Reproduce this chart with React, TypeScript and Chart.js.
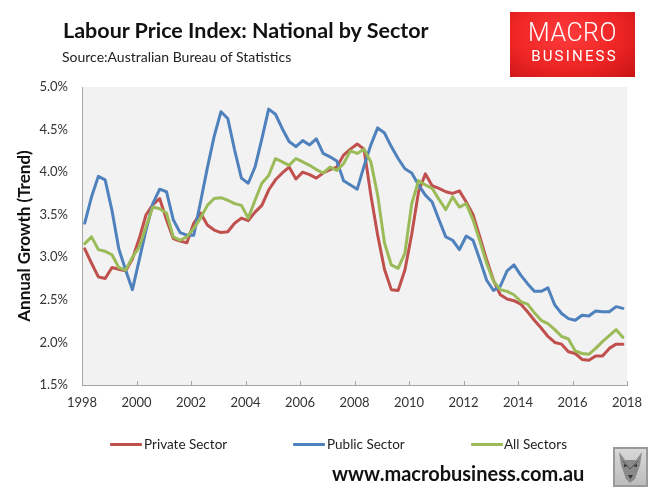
import React, { useEffect, useRef } from "react";
import { Chart, registerables } from "chart.js";

Chart.register(...registerables);

// First observation (Q1 1998) as decimal year; one observation per quarter
const firstObservation = 1998.1;

const privateSector = [
  3.10, 2.93, 2.77, 2.75, 2.88, 2.86, 2.84, 2.98, 3.22, 3.50, 3.62, 3.69, 3.44, 3.22, 3.19, 3.17,
  3.40, 3.52, 3.38, 3.32, 3.29, 3.30, 3.40,
  3.46, 3.43, 3.53, 3.61, 3.79, 3.91, 3.99, 4.06, 3.92, 4.00, 3.97, 3.93, 3.99, 4.03, 4.06, 4.20,
  4.27, 4.33, 4.27, 3.73, 3.26, 2.86, 2.62, 2.61, 2.85, 3.27, 3.77,
  3.98, 3.84, 3.81, 3.77, 3.75, 3.78, 3.65, 3.50, 3.24, 2.97, 2.73, 2.56, 2.51, 2.49, 2.45, 2.36,
  2.26, 2.17, 2.07,
  2.00, 1.98, 1.89, 1.87, 1.80, 1.79, 1.84, 1.84, 1.93, 1.98, 1.98,
];

const publicSector = [
  3.40, 3.71, 3.95, 3.91, 3.55, 3.10, 2.85, 2.62, 2.97, 3.32, 3.63, 3.80, 3.77, 3.44, 3.29, 3.26,
  3.26, 3.65, 4.05, 4.42, 4.71, 4.63, 4.26,
  3.93, 3.87, 4.06, 4.39, 4.74, 4.68, 4.51, 4.36, 4.30, 4.37, 4.32, 4.39, 4.22, 4.18, 4.13, 3.90,
  3.85, 3.80, 4.07, 4.32, 4.52, 4.46, 4.30, 4.16, 4.04, 3.99, 3.85,
  3.73, 3.65, 3.44, 3.24, 3.20, 3.09, 3.25, 3.20, 2.97, 2.73, 2.61, 2.66, 2.84, 2.91, 2.79, 2.69,
  2.60, 2.60, 2.64, 2.44, 2.34, 2.28, 2.26, 2.32, 2.31, 2.37,
  2.36, 2.36, 2.42, 2.40,
];

const allSectors = [
  3.16, 3.24, 3.09, 3.07, 3.03, 2.88, 2.85, 3.00, 3.12, 3.36, 3.59, 3.57, 3.52, 3.24, 3.20, 3.24,
  3.34, 3.46, 3.61, 3.69, 3.70, 3.67, 3.63,
  3.61, 3.46, 3.67, 3.87, 3.96, 4.16, 4.12, 4.08, 4.16, 4.12, 4.08, 4.03, 3.99, 4.06, 4.02, 4.10,
  4.25, 4.22, 4.27, 4.12, 3.73, 3.17, 2.91, 2.87, 3.05, 3.63, 3.90,
  3.85, 3.81, 3.68, 3.56, 3.71, 3.59, 3.63, 3.44, 3.19, 2.93, 2.72, 2.62, 2.60, 2.56, 2.48, 2.45,
  2.35, 2.26, 2.22, 2.15, 2.07, 2.04,
  1.90, 1.87, 1.86, 1.93, 2.01, 2.08, 2.15, 2.06,
];

const xTickYears = [1998, 2000, 2002, 2004, 2006, 2008, 2010, 2012, 2014, 2016, 2018];
const yTickValues = [1.5, 2.0, 2.5, 3.0, 3.5, 4.0, 4.5, 5.0];

const seriesNames = ["Private Sector", "Public Sector", "All Sectors"];
const seriesColors = ["#c0504d", "#4f81bd", "#9bbb59"];

const FONT = "Lato, 'Open Sans', sans-serif";

export default function App() {
  const ref = useRef<HTMLCanvasElement>(null);

  useEffect(() => {
    document.body.style.margin = "0";
    const canvas = ref.current;
    if (!canvas) return;

    const toPoints = (arr: number[]) =>
      arr.map((v, i) => ({ x: firstObservation + 0.25 * i, y: v }));

    const plotBg = {
      id: "plotBg",
      beforeDraw(chart: any) {
        const { ctx, chartArea: a } = chart;
        ctx.save();
        ctx.fillStyle = "#f2f2f2";
        ctx.fillRect(a.left, a.top, a.right - a.left, a.bottom - a.top);
        ctx.restore();
      },
      afterDatasetsDraw(chart: any) {
        const { ctx, chartArea: a } = chart;
        const xs = chart.scales.x;
        ctx.save();
        ctx.strokeStyle = "#a6a6a6";
        ctx.lineWidth = 1;
        xTickYears.forEach((yr) => {
          const px = Math.round(xs.getPixelForValue(yr)) + 0.5;
          ctx.beginPath();
          ctx.moveTo(px, a.bottom);
          ctx.lineTo(px, a.bottom - 4);
          ctx.stroke();
        });
        ctx.restore();
      },
    };

    const datasetsSrc = [privateSector, publicSector, allSectors];

    const chart = new Chart(canvas, {
      type: "line",
      data: {
        datasets: datasetsSrc.map((arr, k) => ({
          label: seriesNames[k],
          data: toPoints(arr),
          borderColor: seriesColors[k],
          backgroundColor: seriesColors[k],
          borderWidth: 3,
          pointRadius: 0,
          tension: 0,
          borderJoinStyle: "round" as const,
          borderCapStyle: "round" as const,
          order: 2 - k,
        })),
      },
      options: {
        animation: false,
        responsive: true,
        maintainAspectRatio: false,
        layout: { padding: { left: 0, top: 87, right: 33, bottom: 85 } },
        plugins: {
          legend: { display: false },
          tooltip: { enabled: false },
          title: { display: false },
        },
        scales: {
          x: {
            type: "linear",
            min: 1998,
            max: 2018,
            afterBuildTicks(scale: any) {
              scale.ticks = xTickYears.map((v) => ({ value: v }));
            },
            afterFit(scale: any) {
              scale.height = 30;
            },
            ticks: {
              autoSkip: false,
              maxRotation: 0,
              padding: 10,
              color: "#333333",
              font: { family: FONT, size: 13 },
              callback: (v: any) => String(v),
            },
            grid: { display: true, drawOnChartArea: false, drawTicks: false },
            border: { display: true, color: "#a6a6a6", width: 1 },
          },
          y: {
            type: "linear",
            min: 1.5,
            max: 5.0,
            afterBuildTicks(scale: any) {
              scale.ticks = yTickValues.map((v) => ({ value: v }));
            },
            afterFit(scale: any) {
              scale.width = 82;
            },
            ticks: {
              padding: 14,
              color: "#333333",
              font: { family: FONT, size: 13 },
              callback: (v: any) => Number(v).toFixed(1) + "%",
            },
            grid: { display: true, drawOnChartArea: false, drawTicks: false },
            border: { display: true, color: "#a6a6a6", width: 1 },
            title: {
              display: true,
              text: "Annual Growth (Trend)",
              color: "#111111",
              font: { family: FONT, size: 17, weight: "bold" },
              padding: { top: 14, bottom: 0 },
            },
          },
        },
      },
      plugins: [plotBg],
    } as any);

    return () => chart.destroy();
  }, []);

  const legendItems = [
    { lineX: 110, textX: 144 },
    { lineX: 293, textX: 327 },
    { lineX: 471, textX: 504 },
  ];

  return (
    <div
      style={{
        position: "relative",
        width: 660,
        height: 500,
        background: "#ffffff",
        overflow: "hidden",
        fontFamily: FONT,
      }}
    >
      <div style={{ position: "absolute", left: 0, top: 0, width: 660, height: 500 }}>
        <canvas ref={ref} />
      </div>

      <div
        style={{
          position: "absolute",
          left: 63,
          top: 16,
          fontSize: 21.5,
          fontWeight: 700,
          color: "#111",
          whiteSpace: "nowrap",
          lineHeight: "28px",
        }}
      >
        Labour Price Index: National by Sector
      </div>
      <div
        style={{
          position: "absolute",
          left: 62,
          top: 48,
          fontSize: 14,
          color: "#222",
          whiteSpace: "nowrap",
          lineHeight: "18px",
        }}
      >
        Source:Australian Bureau of Statistics
      </div>

      <div
        style={{
          position: "absolute",
          left: 510,
          top: 12,
          width: 125,
          height: 65,
          background:
            "radial-gradient(ellipse at 45% 35%, #ff3b3b 0%, #ee2525 55%, #c81414 100%)",
          color: "#fff",
          fontFamily: "Roboto, sans-serif",
          textAlign: "center",
        }}
      >
        <div
          style={{
            position: "absolute",
            left: 0,
            width: 125,
            top: 6,
            fontSize: 25,
            fontWeight: 300,
            lineHeight: "30px",
            letterSpacing: 0.5,
          }}
        >
          MACRO
        </div>
        <div
          style={{
            position: "absolute",
            left: 2,
            width: 125,
            top: 35,
            fontSize: 15,
            fontWeight: 400,
            lineHeight: "18px",
            letterSpacing: 2.2,
          }}
        >
          BUSINESS
        </div>
      </div>

      {legendItems.map((it, k) => (
        <React.Fragment key={k}>
          <div
            style={{
              position: "absolute",
              left: it.lineX,
              top: 443,
              width: 32,
              height: 3,
              background: seriesColors[k],
              borderRadius: 1,
            }}
          />
          <div
            style={{
              position: "absolute",
              left: it.textX,
              top: 435,
              fontSize: 13.5,
              lineHeight: "18px",
              color: "#222",
              whiteSpace: "nowrap",
            }}
          >
            {seriesNames[k]}
          </div>
        </React.Fragment>
      ))}

      <div
        style={{
          position: "absolute",
          left: 332,
          top: 460,
          fontSize: 20,
          fontWeight: 700,
          color: "#111",
          whiteSpace: "nowrap",
          lineHeight: "26px",
        }}
      >
        www.macrobusiness.com.au
      </div>

      <div
        style={{
          position: "absolute",
          left: 613,
          top: 447,
          width: 31,
          height: 36,
          border: "2px solid #9a9a9a",
          background: "linear-gradient(#d8d8d8, #bdbdbd)",
        }}
      >
        <svg width="31" height="36" viewBox="0 0 31 36">
          <polygon points="4,3 10,11 21,11 27,3 25,16 20,30 15,34 11,30 6,16" fill="#8a8a8a" />
          <polygon points="9,15 13,17 9,18" fill="#333" />
          <polygon points="22,15 18,17 22,18" fill="#333" />
          <polygon points="13,26 18,26 15.5,30" fill="#333" />
          <path d="M8 12 L15 20 L23 12" stroke="#555" strokeWidth="1" fill="none" />
        </svg>
      </div>
    </div>
  );
}
